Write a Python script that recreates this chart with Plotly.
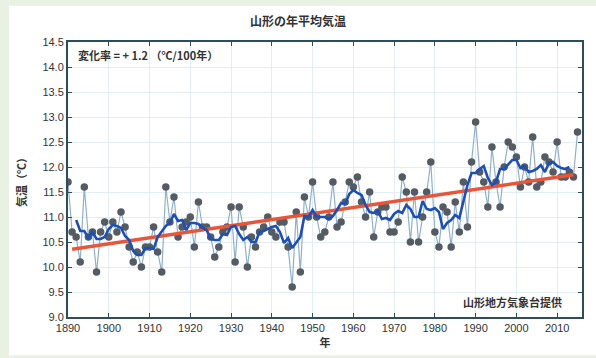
import numpy as np
import plotly.graph_objects as go

years = list(range(1890, 2016))
temps = [
    11.7, 10.7, 10.6, 10.1, 11.6, 10.6, 10.7, 9.9, 10.7, 10.9,   # 1890-1899
    10.6, 10.9, 10.7, 11.1, 10.8, 10.4, 10.1, 10.3, 10.0, 10.4,  # 1900-1909
    10.4, 10.8, 10.3, 9.9, 11.6, 10.9, 11.4, 10.6, 10.8, 10.9,   # 1910-1919
    11.0, 10.4, 11.3, 10.8, 10.8, 10.6, 10.2, 10.4, 10.7, 10.8,  # 1920-1929
    11.2, 10.1, 11.2, 10.8, 10.0, 10.6, 10.4, 10.7, 10.8, 11.0,  # 1930-1939
    10.7, 10.6, 10.9, 10.9, 10.4, 9.6, 11.1, 9.9, 11.4, 11.0,    # 1940-1949
    11.7, 11.0, 10.6, 10.7, 11.0, 11.7, 10.8, 10.9, 11.3, 11.7,  # 1950-1959
    11.6, 11.8, 11.3, 11.0, 11.5, 10.6, 11.1, 11.2, 11.2, 10.7,  # 1960-1969
    10.7, 10.9, 11.8, 11.5, 10.5, 11.5, 10.5, 11.0, 11.5, 12.1,  # 1970-1979
    10.7, 10.4, 11.2, 11.1, 10.4, 11.3, 10.7, 11.7, 10.8, 12.1,  # 1980-1989
    12.9, 11.9, 11.7, 11.2, 12.4, 11.7, 11.2, 12.0, 12.5, 12.4,  # 1990-1999
    12.2, 11.6, 12.0, 11.7, 12.6, 11.6, 11.7, 12.2, 12.1, 11.9,  # 2000-2009
    12.5, 11.8, 11.8, 11.9, 11.8, 12.7,                          # 2010-2015
]
x_ticks = list(range(1890, 2011, 10))
y_ticks = [9.0 + 0.5 * i for i in range(12)]

title_text = "山形の年平均気温"
rate_text = "変化率 = + 1.2 （℃/100年）"
source_text = "山形地方気象台提供"
y_title = "気温（℃）"
x_title = "年"

yrs = np.array(years, dtype=float)
vals = np.array(temps, dtype=float)

# 5-year centred running mean
win = 5
rm = np.convolve(vals, np.ones(win) / win, mode="valid")
rm_years = yrs[win // 2: len(yrs) - win // 2]

# linear trend
slope, intercept = np.polyfit(yrs, vals, 1)
tr_years = np.array([yrs[1], yrs[-2]])
tr_vals = slope * tr_years + intercept

CJK = "Noto Sans CJK JP"
fig = go.Figure()
fig.add_trace(go.Scatter(
    x=years, y=temps, mode="lines+markers",
    line=dict(color="#8fb0c8", width=1.2),
    marker=dict(color="#545b62", size=7.5, line=dict(width=0)),
    showlegend=False, hoverinfo="x+y"))
fig.add_trace(go.Scatter(
    x=tr_years, y=tr_vals, mode="lines",
    line=dict(color="#e8553a", width=3.5), showlegend=False))
fig.add_trace(go.Scatter(
    x=rm_years, y=rm, mode="lines",
    line=dict(color="#1e4fb4", width=2.6), showlegend=False))

L, R, T, B = 68, 14, 42, 35
W, H = 596, 358
pw, ph = W - L - R, H - T - B
def px_x(p):
    return (p - L) / pw
def px_y(p):
    return (H - B - p) / ph

tick_font = dict(family="Liberation Sans, Arial", size=11, color="#333333")

fig.update_layout(
    width=W, height=H,
    margin=dict(l=L, r=R, t=T, b=B),
    paper_bgcolor="#e9f1e2",
    plot_bgcolor="white",
    font=dict(family="Liberation Sans, Arial", size=11, color="#333333"),
    shapes=[dict(type="rect", xref="paper", yref="paper", layer="below",
                 x0=px_x(9), x1=px_x(600), y0=px_y(362), y1=px_y(5),
                 fillcolor="white", line=dict(width=0))],
    title=dict(text=title_text, x=px_x(325), xanchor="center",
               y=1 - 22 / H, yanchor="middle",
               font=dict(family=CJK, size=12, color="#333333", weight="bold")),
    annotations=[
        dict(text=rate_text, xref="paper", yref="paper",
             x=px_x(76), y=px_y(55), xanchor="left", yanchor="middle",
             showarrow=False,
             font=dict(family=CJK, size=11, color="#333333", weight="bold")),
        dict(text=source_text, xref="paper", yref="paper",
             x=px_x(564), y=px_y(308), xanchor="right", yanchor="middle",
             showarrow=False,
             font=dict(family=CJK, size=11, color="#333333", weight="bold")),
    ],
    xaxis=dict(range=[1890, 2016.1], tickvals=x_ticks, ticks="inside",
               ticklen=4, tickcolor="#2b4d5c", showgrid=True,
               gridcolor="#e3edf5", gridwidth=1, zeroline=False,
               showline=True, linecolor="#2b4d5c", linewidth=2,
               mirror="allticks", tickfont=tick_font,
               title=dict(text=x_title, standoff=4,
                          font=dict(family=CJK, size=11, weight="bold"))),
    yaxis=dict(range=[9.0, 14.5], tickvals=y_ticks, tickformat=".1f",
               ticks="inside", ticklen=4, tickcolor="#2b4d5c",
               showgrid=True, gridcolor="#e3edf5", gridwidth=1,
               zeroline=False, showline=True, linecolor="#2b4d5c",
               linewidth=2, mirror="allticks", tickfont=tick_font,
               title=dict(text=y_title, standoff=14,
                          font=dict(family=CJK, size=11, weight="bold"))),
)

fig.write_html(
    "out.html",
    config={"displayModeBar": False},
    post_script="document.body.style.margin='0';"
                "document.body.style.background='#e9f1e2';",
)
